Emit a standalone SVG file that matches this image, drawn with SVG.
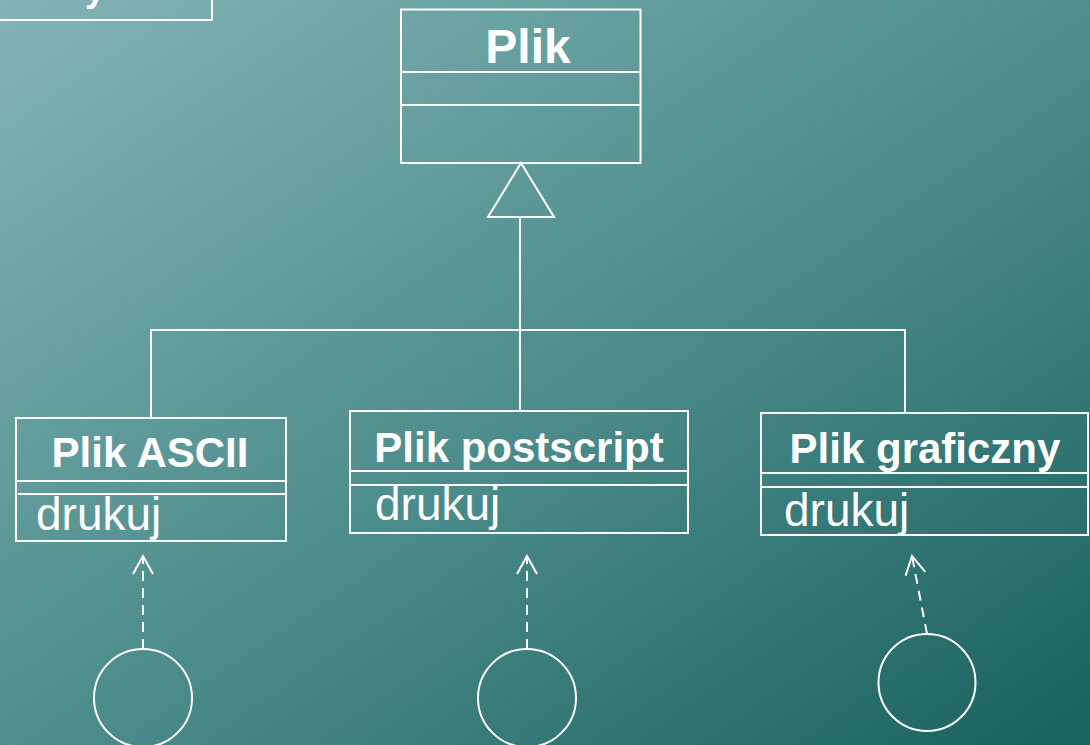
<svg xmlns="http://www.w3.org/2000/svg" width="1090" height="745" viewBox="0 0 1090 745">
<defs>
<linearGradient id="bg" x1="0" y1="0" x2="1" y2="1">
<stop offset="0" stop-color="#84b4b5"/>
<stop offset="0.5" stop-color="#4f8e8e"/>
<stop offset="1" stop-color="#19615e"/>
</linearGradient>
<marker id="open" viewBox="0 0 24 24" refX="20" refY="12" markerWidth="24" markerHeight="24" markerUnits="userSpaceOnUse" orient="auto">
<path d="M2 2 L20 12 L2 22" fill="none" stroke="#fff" stroke-width="2"/>
</marker>
<style>
.box{fill:none;stroke:#fff;stroke-width:2}
.ln{fill:none;stroke:#fff;stroke-width:2}
.dash{fill:none;stroke:#fff;stroke-width:2;stroke-dasharray:10 7}
.title{font-family:"Liberation Sans",Arial,sans-serif;font-weight:bold;fill:#fff;text-anchor:middle}
.op{font-family:"Liberation Sans",Arial,sans-serif;fill:#fff;font-size:46px}
</style>
</defs>
<rect width="1090" height="745" fill="url(#bg)"/>

<g id="topleft">
<rect class="box" x="-5" y="-40" width="217" height="60"/>
<text class="title" x="95" y="1" font-size="36">y</text>
</g>

<g id="plik">
<rect class="box" x="401" y="9.5" width="239.5" height="153.5"/>
<line class="ln" x1="401" y1="72" x2="640.5" y2="72"/>
<line class="ln" x1="401" y1="105" x2="640.5" y2="105"/>
<text class="title" x="528" y="63" font-size="48">Plik</text>
</g>

<g id="plik-ascii">
<rect class="box" x="16" y="418" width="270" height="123"/>
<line class="ln" x1="16" y1="481" x2="286" y2="481"/>
<line class="ln" x1="18" y1="494" x2="287" y2="494"/>
<text class="title" x="150" y="467" font-size="42">Plik ASCII</text>
<text class="op" x="36" y="530">drukuj</text>
</g>

<g id="plik-postscript">
<rect class="box" x="350" y="411" width="338" height="122"/>
<line class="ln" x1="350" y1="471" x2="688" y2="471"/>
<line class="ln" x1="350" y1="485" x2="688" y2="485"/>
<text class="title" x="519" y="462" font-size="42">Plik postscript</text>
<text class="op" x="375" y="520">drukuj</text>
</g>

<g id="plik-graficzny">
<rect class="box" x="761" y="413" width="327" height="122"/>
<line class="ln" x1="761" y1="473" x2="1088" y2="473"/>
<line class="ln" x1="761" y1="487" x2="1088" y2="487"/>
<text class="title" x="925" y="463" font-size="42">Plik graficzny</text>
<text class="op" x="784" y="526">drukuj</text>
</g>

<g id="iface1"><circle class="ln" cx="143" cy="698" r="49"/></g>
<g id="iface2"><circle class="ln" cx="527" cy="698" r="49"/></g>
<g id="iface3"><circle class="ln" cx="927" cy="682.5" r="48.5"/></g>

<g id="connectors">
<polygon class="ln" points="521,163 488,217 554,217"/>
<polyline class="ln" points="520,217 520,411"/>
<polyline class="ln" points="151,418 151,330 905,330 905,413"/>
<line class="dash" x1="143" y1="649" x2="143" y2="556" marker-end="url(#open)"/>
<line class="dash" x1="527" y1="649" x2="527" y2="556" marker-end="url(#open)"/>
<line class="dash" x1="927" y1="634" x2="912" y2="556" marker-end="url(#open)"/>
</g>
</svg>
